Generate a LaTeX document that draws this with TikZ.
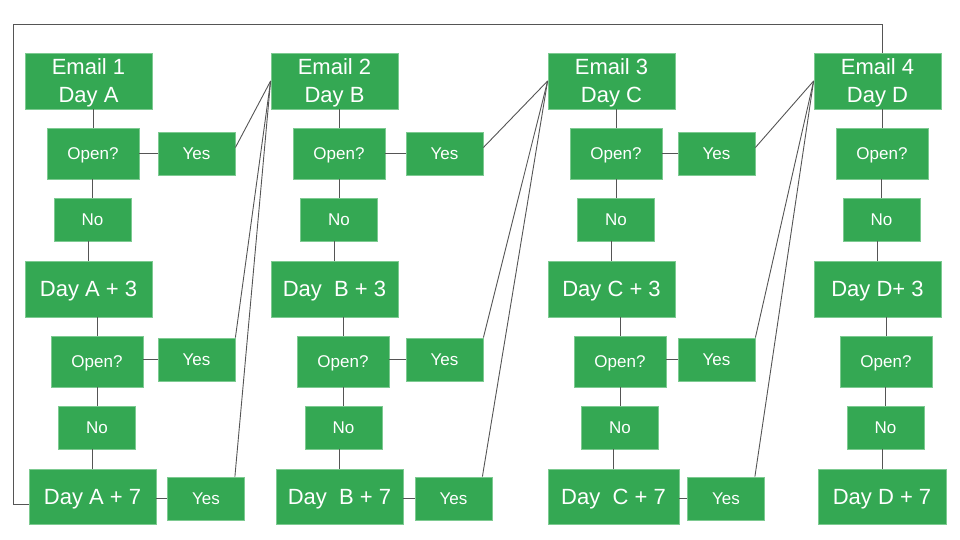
\documentclass[tikz,border=0pt]{standalone}
\usepackage{fontspec}
\setmainfont{Liberation Sans}
\usepackage{xcolor}
\usetikzlibrary{positioning, calc}
\definecolor{gfill}{RGB}{52,168,83}
\definecolor{gedge}{RGB}{125,202,145}
\definecolor{gline}{RGB}{85,85,85}

\begin{document}
\begin{tikzpicture}[x=1pt, y=-1pt,
    box/.style={rectangle, fill=gfill, draw=gedge, line width=0.8pt, text=white, inner sep=0pt, align=center, text depth=0pt},
    daybox/.style={box, minimum width=127pt, minimum height=56pt, text height=15.8pt, font=\fontsize{22}{28}\selectfont},
    mailbox/.style={daybox, text height=44pt},
    openbox/.style={box, minimum width=92pt, minimum height=51pt, text height=12.2pt, font=\fontsize{17}{20}\selectfont},
    ansbox/.style={box, minimum width=77pt, minimum height=43pt, text height=12.2pt, font=\fontsize{17}{20}\selectfont},
    link/.style={draw=gline, line width=0.9pt}]
    \useasboundingbox (0,0) rectangle (960,540);

    % column 1
    \node[mailbox] (email1) at (88.5,81) {Email 1\\Day A};
    \node[openbox] (opena1) at (93,153.5) {Open?};
    \node[ansbox] (yesa1) at (196.5,153.5) {Yes};
    \node[ansbox] (noa1) at (92.5,219.5) {No};
    \node[daybox] (plusthree1) at (88.5,289) {Day A + 3};
    \node[openbox] (openb1) at (97,361.5) {Open?};
    \node[ansbox] (yesb1) at (196.5,359.5) {Yes};
    \node[ansbox] (nob1) at (97,427.5) {No};
    \node[daybox, minimum height=55pt] (plusseven1) at (92.5,496.5) {Day A + 7};
    \node[ansbox] (yesc1) at (206,498.5) {Yes};

    % column 2
    \node[mailbox] (email2) at (334.5,81) {Email 2\\Day B};
    \node[openbox] (opena2) at (339,153.5) {Open?};
    \node[ansbox] (yesa2) at (444.5,153.5) {Yes};
    \node[ansbox] (noa2) at (339,219.5) {No};
    \node[daybox] (plusthree2) at (334.5,289) {Day\ \ B + 3};
    \node[openbox] (openb2) at (343,361.5) {Open?};
    \node[ansbox] (yesb2) at (444.5,359.5) {Yes};
    \node[ansbox] (nob2) at (343.5,427.5) {No};
    \node[daybox, minimum height=55pt] (plusseven2) at (339.5,496.5) {Day\ \ B + 7};
    \node[ansbox] (yesc2) at (453.5,498.5) {Yes};

    % column 3
    \node[mailbox] (email3) at (611.5,81) {Email 3\\Day C};
    \node[openbox] (opena3) at (616,153.5) {Open?};
    \node[ansbox] (yesa3) at (716.5,153.5) {Yes};
    \node[ansbox] (noa3) at (616,219.5) {No};
    \node[daybox] (plusthree3) at (611.5,289) {Day C + 3};
    \node[openbox] (openb3) at (620,361.5) {Open?};
    \node[ansbox] (yesb3) at (716.5,359.5) {Yes};
    \node[ansbox] (nob3) at (620,427.5) {No};
    \node[daybox, minimum width=131pt, minimum height=55pt] (plusseven3) at (613.5,496.5) {Day\ \ C + 7};
    \node[ansbox] (yesc3) at (726,498.5) {Yes};

    % column 4
    \node[mailbox] (email4) at (877.5,81) {Email 4\\Day D};
    \node[openbox] (opena4) at (882,153.5) {Open?};
    \node[ansbox] (noa4) at (881.5,219.5) {No};
    \node[daybox] (plusthree4) at (877.5,289) {Day D+ 3};
    \node[openbox] (openb4) at (886,361.5) {Open?};
    \node[ansbox] (nob4) at (885.5,427.5) {No};
    \node[daybox, minimum width=128pt, minimum height=55pt] (plusseven4) at (882,496.5) {Day D + 7};

    % down each column
    \foreach \c in {1,2,3,4}
        \foreach \u/\l in {email/opena, opena/noa, noa/plusthree, plusthree/openb, openb/nob, nob/plusseven}
            \draw[link] (\l\c.north |- \u\c.south) -- (\l\c.north);

    % yes branches to the next email
    \foreach \c [evaluate=\c as \n using int(\c+1)] in {1,2,3} {
        \draw[link] (opena\c.east |- yesa\c) -- (yesa\c.west);
        \draw[link] (openb\c.east |- yesb\c) -- (yesb\c.west);
        \draw[link] (plusseven\c.east |- yesc\c) -- (yesc\c.west);
        \draw[link] ([yshift=6pt]yesa\c.east) -- (email\n.west);
        \draw[link] (yesb\c.north east) -- (email\n.west);
        \draw[link] ([xshift=-10pt]yesc\c.north east) -- (email\n.west);
    }

    % loop back round
    \coordinate (loopcorner) at (13,24);
    \draw[link] ([yshift=-7.5pt]plusseven1.west) -| (loopcorner) -| ([xshift=4.5pt]email4.north);
\end{tikzpicture}
\end{document}
